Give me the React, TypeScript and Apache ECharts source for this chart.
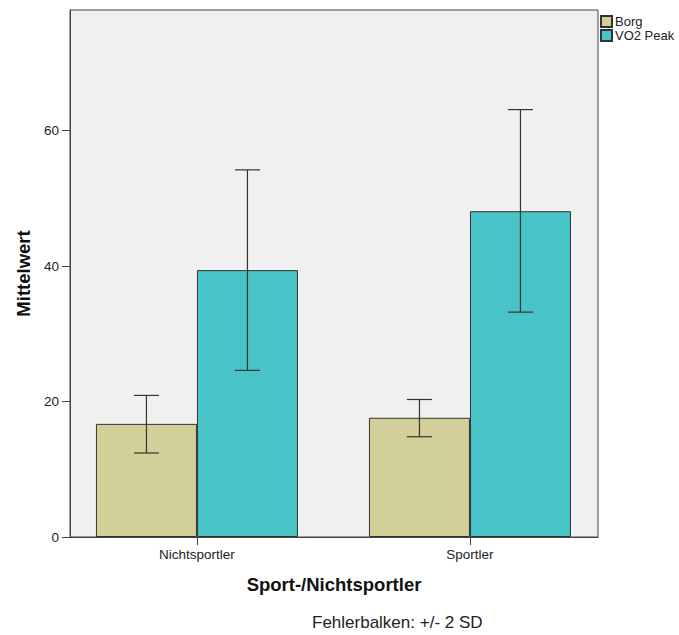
import React, { useEffect, useRef } from "react";
import * as echarts from "echarts";

const categories = ["Nichtsportler", "Sportler"];
const seriesNames = ["Borg", "VO2 Peak"];
const borgMean = [16.7, 17.6];
const borgLow = [12.4, 14.8];
const borgHigh = [20.9, 20.3];
const vo2Mean = [39.4, 48.1];
const vo2Low = [24.6, 33.2];
const vo2High = [54.2, 63.1];
const yTicks = [0, 20, 40, 60];

const FONT = "'Liberation Sans', Arial, sans-serif";
const BAR_W = 101;

function errorSeries(low: number[], high: number[], offset: number) {
  return {
    type: "custom",
    silent: true,
    z: 5,
    data: low.map((l, i) => [i, l, high[i]]),
    encode: { x: 0, y: [1, 2] },
    renderItem: (params: any, api: any) => {
      const x = api.value(0);
      const lo = api.coord([x, api.value(1)]);
      const hi = api.coord([x, api.value(2)]);
      const cx = lo[0] + offset;
      const cap = 12.5;
      const style = { stroke: "#333", lineWidth: 1.2 };
      return {
        type: "group",
        children: [
          { type: "line", shape: { x1: cx, y1: lo[1], x2: cx, y2: hi[1] }, style },
          { type: "line", shape: { x1: cx - cap, y1: lo[1], x2: cx + cap, y2: lo[1] }, style },
          { type: "line", shape: { x1: cx - cap, y1: hi[1], x2: cx + cap, y2: hi[1] }, style },
        ],
      };
    },
  };
}

export default function App() {
  const ref = useRef<HTMLDivElement>(null);
  useEffect(() => {
    document.body.style.margin = "0";
    const chart = echarts.init(ref.current!, null, { renderer: "svg" });
    chart.setOption({
      animation: false,
      textStyle: { fontFamily: FONT },
      grid: {
        left: 70,
        top: 10,
        right: 81,
        bottom: 98,
        show: true,
        backgroundColor: "#f0f0f0",
        borderColor: "#444",
        borderWidth: 1,
      },
      legend: {
        orient: "vertical",
        left: 600,
        top: 15,
        padding: 0,
        itemWidth: 11,
        itemHeight: 11,
        itemGap: 1,
        icon: "rect",
        textStyle: { fontSize: 13, color: "#222", fontFamily: FONT, padding: [0, 0, 0, -2] },
        data: seriesNames,
      },
      xAxis: {
        type: "value",
        min: -0.465,
        max: 1.469,
        splitLine: { show: false },
        axisLine: { show: true, onZero: false, lineStyle: { color: "#444" } },
        axisTick: { show: true, customValues: [0, 1], length: 8, lineStyle: { color: "#444" } },
        axisLabel: {
          customValues: [0, 1],
          formatter: (v: number) => categories[Math.round(v)],
          fontSize: 13.5,
          color: "#222",
          margin: 10,
        },
        name: "Sport-/Nichtsportler",
        nameLocation: "middle",
        nameGap: 38,
        nameTextStyle: { fontSize: 18.5, fontWeight: "bold", color: "#111" },
      },
      yAxis: {
        type: "value",
        min: 0,
        max: 77.8,
        splitLine: { show: false },
        axisLine: { show: true, onZero: false, lineStyle: { color: "#444" } },
        axisTick: { show: true, customValues: yTicks, length: 8, lineStyle: { color: "#444" } },
        axisLabel: { customValues: yTicks, fontSize: 13.5, color: "#222", margin: 11 },
        name: "Mittelwert",
        nameLocation: "middle",
        nameGap: 37,
        nameTextStyle: { fontSize: 18.5, fontWeight: "bold", color: "#111" },
      },
      series: [
        {
          name: seriesNames[0],
          type: "bar",
          barWidth: BAR_W,
          barGap: "0%",
          data: borgMean.map((v, i) => [i, v]),
          itemStyle: { color: "#d3cf98", borderColor: "#333", borderWidth: 1 },
        },
        {
          name: seriesNames[1],
          type: "bar",
          barWidth: BAR_W,
          barGap: "0%",
          data: vo2Mean.map((v, i) => [i, v]),
          itemStyle: { color: "#48c3c6", borderColor: "#333", borderWidth: 1 },
        },
        errorSeries(borgLow, borgHigh, -BAR_W / 2),
        errorSeries(vo2Low, vo2High, BAR_W / 2),
      ],
      graphic: [
        {
          type: "text",
          left: 312,
          top: 614,
          style: { text: "Fehlerbalken: +/- 2 SD", fontSize: 17, fill: "#222", fontFamily: FONT },
        },
      ],
    });
    return () => chart.dispose();
  }, []);
  return <div ref={ref} style={{ width: 679, height: 635 }} />;
}
